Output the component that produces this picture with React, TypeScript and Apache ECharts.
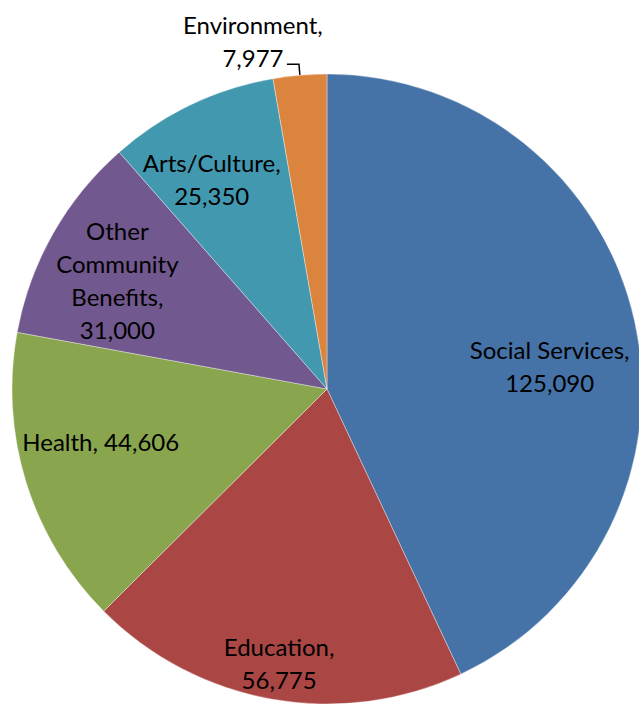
import React, { useEffect, useRef } from "react";
import * as echarts from "echarts";

const categories = [
  "Social Services",
  "Education",
  "Health",
  "Other Community Benefits",
  "Arts/Culture",
  "Environment",
];
const values = [125090, 56775, 44606, 31000, 25350, 7977];
const labelNames = [
  "Social Services",
  "Education",
  "Health",
  "Other\nCommunity\nBenefits",
  "Arts/Culture",
  "Environment",
];
const labelSeparators = [",\n", ",\n", ", ", ",\n", ",\n", ",\n"];
const colors = ["#4572A7", "#AA4643", "#89A54E", "#71588F", "#4198AF", "#DB843D"];
const labelPositions = ["inside", "inside", "inside", "inside", "inside", "outside"];
// label nudges (px) relative to the default label anchor
const labelNudge: [number, number][] = [
  [66, 12],
  [-20, 116],
  [-73, 5],
  [-70, -30],
  [-46, -65],
  [-34, -23],
];

export default function App() {
  const ref = useRef<HTMLDivElement>(null);
  useEffect(() => {
    if (!ref.current) return;
    const chart = echarts.init(ref.current, null, { renderer: "svg" });
    chart.setOption({
      animation: false,
      backgroundColor: "#ffffff",
      series: [
        {
          type: "pie",
          center: [327, 389],
          radius: 315,
          startAngle: 90,
          clockwise: true,
          avoidLabelOverlap: false,
          itemStyle: { borderColor: "rgba(255,255,255,0.6)", borderWidth: 0.6 },
          label: {
            color: "#000",
            fontFamily: "Lato",
            fontSize: 24,
            lineHeight: 33,
            align: "center",
            formatter: (p: any) =>
              labelNames[p.dataIndex] +
              labelSeparators[p.dataIndex] +
              Number(p.value).toLocaleString("en-US"),
          },
          labelLine: {
            show: true,
            length: 11,
            length2: 12,
            smooth: false,
            lineStyle: { color: "#000", width: 1.5 },
          },
          labelLayout: (params: any) => {
            const i = params.dataIndex;
            const n = labelNudge[i];
            if (labelPositions[i] === "outside" && params.labelLinePoints) {
              const pts = params.labelLinePoints;
              const end = pts[pts.length - 1];
              return {
                x: end[0] + n[0],
                y: end[1] + n[1],
                align: "center",
                verticalAlign: "middle",
                labelLinePoints: pts,
              };
            }
            const r = params.labelRect;
            return {
              x: r.x + r.width / 2 + n[0],
              y: r.y + r.height / 2 + n[1],
              align: "center",
              verticalAlign: "middle",
            };
          },
          data: categories.map((name, i) => ({
            name,
            value: values[i],
            itemStyle: { color: colors[i] },
            label: { position: labelPositions[i] },
            labelLine: { show: labelPositions[i] === "outside" },
          })),
        },
      ],
    });
    return () => chart.dispose();
  }, []);
  return (
    <div
      ref={ref}
      style={{ position: "fixed", left: 0, top: 0, width: 639, height: 705 }}
    />
  );
}
